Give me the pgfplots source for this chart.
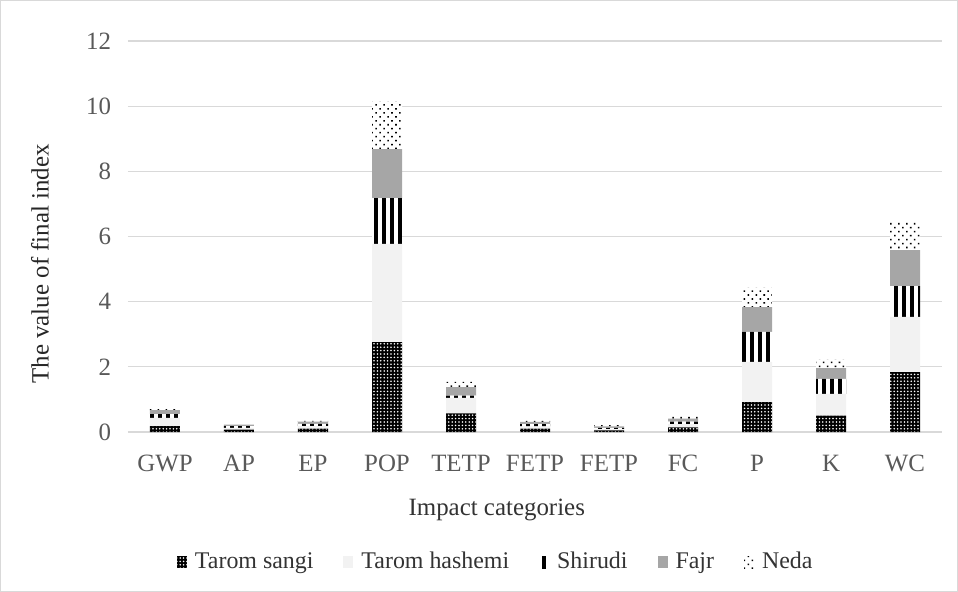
\documentclass[border=0pt]{standalone}
\usepackage{fontspec}
\setmainfont{Liberation Serif}
\usepackage{pgfplots}
\pgfplotsset{compat=1.18}
\usetikzlibrary{patterns.meta}

\definecolor{txt}{HTML}{595959}
\definecolor{gridc}{HTML}{D9D9D9}
\definecolor{hashemi}{HTML}{F2F2F2}
\definecolor{fajr}{HTML}{A6A6A6}

\begin{document}
\begin{tikzpicture}
  % chart frame: page is 479 x 296 bp, axis box lower-left at (0,0)
  \draw[gridc, line width=0.5bp] (-63.75bp,-79.75bp) rectangle (414.75bp,215.75bp);
  \begin{axis}[
    scale only axis,
    width=407bp, height=195.5bp,
    ybar stacked, bar width=15bp,
    xmin=-0.5, xmax=10.5, ymin=0, ymax=12,
    xtick={0,...,10},
    xticklabels={GWP,AP,EP,POP,TETP,FETP,FETP,FC,P,K,WC},
    ytick={0,2,...,12},
    ymajorgrids, grid style={gridc, line width=0.6bp},
    axis x line*=bottom, axis y line*=left,
    x axis line style={gridc, line width=0.6bp, -},
    y axis line style={draw=none},
    tick style={draw=none},
    /pgf/number format/assume math mode=true,
    tick label style={font=\fontsize{12.5}{14}\selectfont, text=txt},
    xticklabel style={yshift=-8bp},
    yticklabel style={xshift=-5bp},
    xlabel={Impact categories},
    ylabel={The value of final index},
    every axis x label/.style={at={(axis description cs:0.453,0)}, yshift=-39bp, anchor=center,
      font=\fontsize{12.5}{14}\selectfont, text=black!80},
    every axis y label/.style={at={(axis description cs:0,0.43)}, xshift=-44bp, rotate=90, anchor=center,
      font=\fontsize{12.5}{14}\selectfont, text=black!85},
    legend style={at={(axis description cs:0.453,0)}, yshift=-65bp, anchor=center,
      draw=none, fill=none, font=\fontsize{12}{14}\selectfont, text=black!80,
      legend columns=5, /tikz/every even column/.append style={column sep=13bp},
      /tikz/every odd column/.append style={column sep=2bp}},
    legend image code/.code={\fill[#1] (0bp,-3bp) rectangle (5bp,3bp);},
  ]
    \addplot[draw=none, fill=black, postaction={pattern={Dots[distance=1.7bp, radius=0.45bp]}, pattern color=white}] coordinates {
      (0,0.18) (1,0.07) (2,0.10) (3,2.76) (4,0.57) (5,0.10) (6,0.05) (7,0.14) (8,0.92) (9,0.50) (10,1.84)};
    \addplot[draw=none, fill=hashemi] coordinates {
      (0,0.25) (1,0.06) (2,0.08) (3,3.01) (4,0.48) (5,0.07) (6,0.04) (7,0.10) (8,1.23) (9,0.67) (10,1.69)};
    \addplot[draw=none, fill=white, postaction={pattern={Lines[angle=90, distance=4bp, line width=1.6bp]}, pattern color=black}] coordinates {
      (0,0.12) (1,0.05) (2,0.07) (3,1.41) (4,0.07) (5,0.07) (6,0.04) (7,0.08) (8,0.92) (9,0.46) (10,0.95)};
    \addplot[draw=none, fill=fajr] coordinates {
      (0,0.12) (1,0.05) (2,0.07) (3,1.50) (4,0.26) (5,0.07) (6,0.04) (7,0.09) (8,0.76) (9,0.33) (10,1.10)};
    \addplot[draw=none, fill=white, postaction={pattern={Dots[distance=2.8bp, angle=45, radius=0.55bp]}, pattern color=black}] coordinates {
      (0,0.10) (1,0.05) (2,0.06) (3,1.45) (4,0.16) (5,0.07) (6,0.04) (7,0.08) (8,0.59) (9,0.28) (10,0.87)};
    \legend{Tarom sangi, Tarom hashemi, Shirudi, Fajr, Neda}
  \end{axis}
\end{tikzpicture}
\end{document}
